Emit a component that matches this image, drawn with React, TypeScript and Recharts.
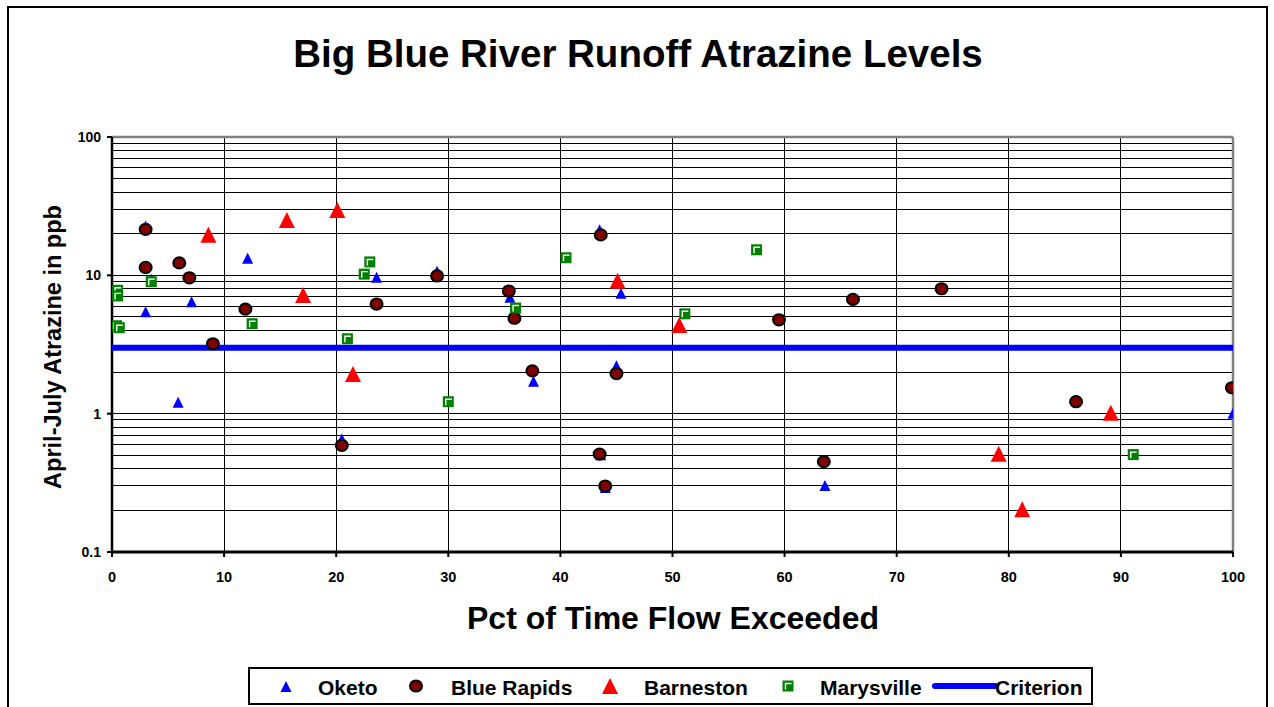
import React from 'react';
import { ScatterChart, Scatter, XAxis, YAxis, CartesianGrid, ReferenceLine } from 'recharts';

const FONT = '"Liberation Sans", Arial, Helvetica, sans-serif';

const xTicks = [0, 10, 20, 30, 40, 50, 60, 70, 80, 90, 100];
const yTicks = [
  0.1, 0.2, 0.3, 0.4, 0.5, 0.6, 0.7, 0.8, 0.9,
  1, 2, 3, 4, 5, 6, 7, 8, 9,
  10, 20, 30, 40, 50, 60, 70, 80, 90, 100,
];
const yMajor = [0.1, 1, 10, 100];

const oketo = [
  { x: 3.0, y: 22.5 }, { x: 3.0, y: 5.4 }, { x: 3.5, y: 9.3 }, { x: 5.9, y: 1.2 },
  { x: 7.1, y: 6.4 }, { x: 12.1, y: 13.2 }, { x: 20.5, y: 0.65 }, { x: 23.6, y: 9.6 },
  { x: 29.0, y: 10.6 }, { x: 35.5, y: 6.9 }, { x: 37.6, y: 1.7 }, { x: 43.5, y: 21.2 },
  { x: 43.6, y: 0.5 }, { x: 44.0, y: 0.29 }, { x: 45.0, y: 2.2 }, { x: 45.4, y: 7.35 },
  { x: 63.6, y: 0.3 }, { x: 100, y: 1.0 },
];

const blueRapids = [
  { x: 3.0, y: 21.5 }, { x: 3.0, y: 11.4 }, { x: 6.0, y: 12.3 }, { x: 6.9, y: 9.6 },
  { x: 9.0, y: 3.2 }, { x: 11.9, y: 5.7 }, { x: 20.5, y: 0.59 }, { x: 23.6, y: 6.2 },
  { x: 29.0, y: 9.9 }, { x: 35.4, y: 7.7 }, { x: 35.9, y: 4.9 }, { x: 37.5, y: 2.04 },
  { x: 43.6, y: 19.6 }, { x: 43.5, y: 0.51 }, { x: 44.0, y: 0.3 }, { x: 45.0, y: 1.95 },
  { x: 59.5, y: 4.77 }, { x: 63.5, y: 0.45 }, { x: 66.1, y: 6.7 }, { x: 74.0, y: 8.0 },
  { x: 86.0, y: 1.22 }, { x: 99.9, y: 1.54 },
];

const barneston = [
  { x: 8.6, y: 19.3 }, { x: 15.6, y: 24.7 }, { x: 20.1, y: 29.2 }, { x: 17.05, y: 7.1 },
  { x: 21.5, y: 1.9 }, { x: 45.1, y: 9.0 }, { x: 50.6, y: 4.3 }, { x: 79.1, y: 0.505 },
  { x: 81.2, y: 0.2 }, { x: 89.1, y: 1.0 },
];

const marysville = [
  { x: 0.5, y: 7.8 }, { x: 0.5, y: 7.1 }, { x: 0.4, y: 4.32 }, { x: 0.65, y: 4.18 },
  { x: 3.5, y: 9.0 }, { x: 12.5, y: 4.47 }, { x: 21.0, y: 3.48 }, { x: 22.5, y: 10.2 },
  { x: 23.0, y: 12.5 }, { x: 30.0, y: 1.22 }, { x: 36.0, y: 5.8 }, { x: 40.5, y: 13.4 },
  { x: 51.1, y: 5.27 }, { x: 57.5, y: 15.3 }, { x: 91.1, y: 0.506 },
];

const criterion = [{ x: 0, y: 3 }, { x: 100, y: 3 }];

const drawOketo = (cx: number, cy: number) => (
  <polygon points={`${cx},${cy - 6} ${cx - 5.5},${cy + 5} ${cx + 5.5},${cy + 5}`} fill="#0000ff" />
);
const drawBlueRapids = (cx: number, cy: number) => (
  <ellipse cx={cx} cy={cy} rx={6} ry={5.6} fill="#800000" stroke="#000" strokeWidth={2} />
);
const drawBarneston = (cx: number, cy: number) => (
  <polygon points={`${cx},${cy - 9} ${cx - 8},${cy + 7} ${cx + 8},${cy + 7}`} fill="#ff0000" />
);
const drawMarysville = (cx: number, cy: number) => (
  <g>
    <rect x={cx - 5.5} y={cy - 5.5} width={11} height={11} fill="#008000" />
    <polyline
      points={`${cx - 2.5},${cy + 3.5} ${cx - 2.5},${cy - 2.5} ${cx + 3.5},${cy - 2.5}`}
      fill="none"
      stroke="#ffffff"
      strokeWidth={1.4}
    />
  </g>
);

const mk = (fn: (cx: number, cy: number) => React.ReactElement) => (props: any) => {
  const { cx, cy } = props;
  if (cx == null || cy == null) return <g />;
  return fn(cx, cy);
};

const OketoShape = mk(drawOketo);
const BlueRapidsShape = mk(drawBlueRapids);
const BarnestonShape = mk(drawBarneston);
const MarysvilleShape = mk(drawMarysville);
const NoShape = () => <g />;

const YTick = (props: any) => {
  const { x, y, payload } = props;
  const v = payload.value;
  if (!yMajor.includes(v)) return <g />;
  return (
    <g>
      <line x1={x + 6} x2={x + 11} y1={y} y2={y} stroke="#000" strokeWidth={2} />
      <text
        x={x}
        y={y}
        dy="0.36em"
        textAnchor="end"
        fontFamily={FONT}
        fontSize={14}
        fontWeight="bold"
        fill="#000"
      >
        {String(v)}
      </text>
    </g>
  );
};

export default function App() {
  const legendText = { fontFamily: FONT, fontSize: 21, fontWeight: 'bold' as const, fill: '#000' };
  return (
    <div
      style={{
        position: 'absolute',
        left: 0,
        top: 0,
        width: 1274,
        height: 707,
        overflow: 'hidden',
        background: '#fff',
      }}
    >
      <div
        style={{
          position: 'absolute',
          left: 7,
          top: 6,
          width: 1261,
          height: 740,
          border: '2px solid #000',
          boxSizing: 'border-box',
        }}
      />
      <div style={{ position: 'absolute', left: 0, top: 0 }}>
        <ScatterChart width={1274} height={707} margin={{ top: 137, right: 41, bottom: 125, left: 12 }}>
          <CartesianGrid stroke="#000" strokeWidth={1} shapeRendering="crispEdges" />
          <XAxis
            dataKey="x"
            type="number"
            domain={[0, 100]}
            ticks={xTicks}
            interval={0}
            allowDataOverflow
            height={30}
            tickSize={5}
            tickMargin={15}
            axisLine={{ stroke: '#000', strokeWidth: 3 }}
            tickLine={{ stroke: '#000', strokeWidth: 2 }}
            tick={{ fill: '#000', fontSize: 14.5, fontWeight: 'bold', fontFamily: FONT }}
          />
          <YAxis
            dataKey="y"
            type="number"
            scale="log"
            domain={[0.1, 100]}
            ticks={yTicks}
            interval={0}
            allowDataOverflow
            width={100}
            tickSize={5}
            tickMargin={6}
            tickLine={false}
            axisLine={{ stroke: '#000', strokeWidth: 2.5 }}
            tick={<YTick />}
          />
          <ReferenceLine y={100} stroke="#808080" strokeWidth={2.5} zIndex={-50} />
          <ReferenceLine x={100} stroke="#808080" strokeWidth={2.5} zIndex={-50} />
          <Scatter
            name="Criterion"
            data={criterion}
            line={{ stroke: '#0000ff', strokeWidth: 6 }}
            shape={NoShape}
            isAnimationActive={false}
          />
          <Scatter name="Oketo" data={oketo} shape={OketoShape} isAnimationActive={false} />
          <Scatter name="Blue Rapids" data={blueRapids} shape={BlueRapidsShape} isAnimationActive={false} />
          <Scatter name="Barneston" data={barneston} shape={BarnestonShape} isAnimationActive={false} />
          <Scatter name="Marysville" data={marysville} shape={MarysvilleShape} isAnimationActive={false} />
        </ScatterChart>
      </div>
      <svg
        width={1274}
        height={707}
        style={{ position: 'absolute', left: 0, top: 0, pointerEvents: 'none' }}
      >
        <text x={638} y={67} textAnchor="middle" fontFamily={FONT} fontSize={38.5} fontWeight="bold" fill="#000">
          Big Blue River Runoff Atrazine Levels
        </text>
        <text x={673} y={629} textAnchor="middle" fontFamily={FONT} fontSize={32} fontWeight="bold" fill="#000">
          Pct of Time Flow Exceeded
        </text>
        <text
          transform="translate(61,347) rotate(-90)"
          textAnchor="middle"
          fontFamily={FONT}
          fontSize={23.5}
          fontWeight="bold"
          fill="#000"
        >
          April-July Atrazine in ppb
        </text>
        <rect x={249} y={668} width={843} height={36} fill="#fff" stroke="#000" strokeWidth={2} />
        {drawOketo(286, 687)}
        <text x={318} y={695} {...legendText}>Oketo</text>
        {drawBlueRapids(416, 686)}
        <text x={451} y={695} {...legendText}>Blue Rapids</text>
        {drawBarneston(610, 687)}
        <text x={644} y={695} {...legendText}>Barneston</text>
        {drawMarysville(788, 686)}
        <text x={820} y={695} {...legendText}>Marysville</text>
        <line x1={935} x2={995} y1={686} y2={686} stroke="#0000ff" strokeWidth={6} strokeLinecap="round" />
        <text x={995} y={695} {...legendText}>Criterion</text>
      </svg>
    </div>
  );
}
